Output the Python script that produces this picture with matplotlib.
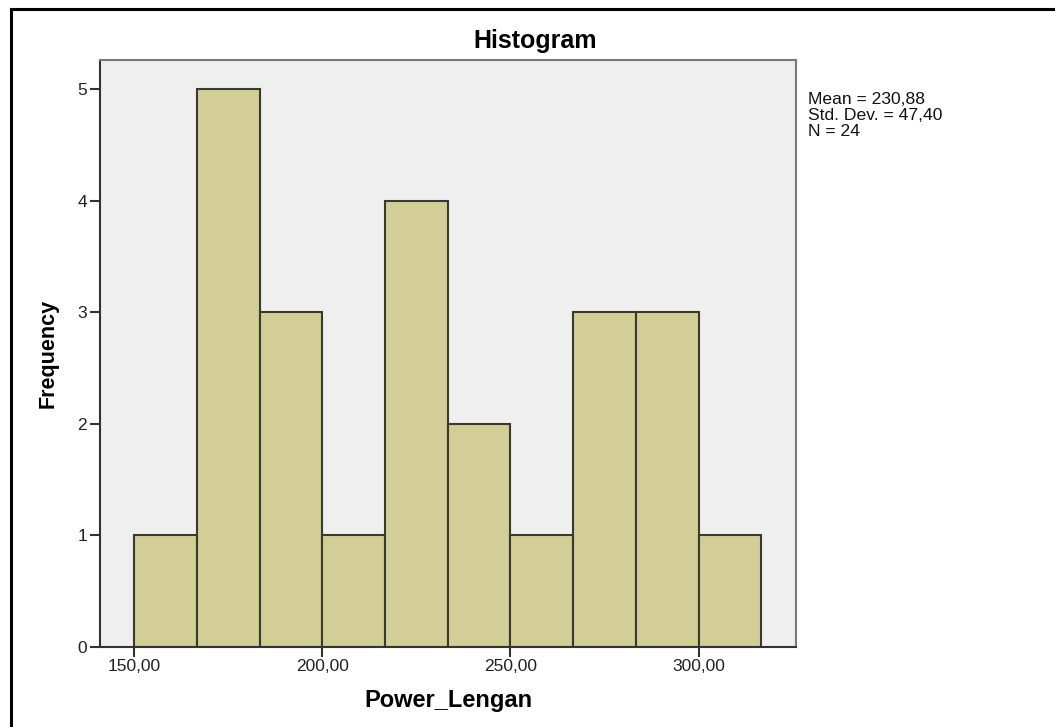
import numpy as np
import matplotlib
matplotlib.use("Agg")
import matplotlib.pyplot as plt
from matplotlib.lines import Line2D

plt.rcParams['font.family'] = ['Liberation Sans', 'DejaVu Sans']

# histogram of Power_Lengan, 10 bins
bin_edges = [150.0, 166.67, 183.33, 200.0, 216.67, 233.33, 250.0, 266.67, 283.33, 300.0, 316.67]
counts = [1, 5, 3, 1, 4, 2, 1, 3, 3, 1]
x_ticks = [150, 200, 250, 300]
x_tick_labels = ['150,00', '200,00', '250,00', '300,00']
y_ticks = [0, 1, 2, 3, 4, 5]
stats_lines = ['Mean = 230,88', 'Std. Dev. = 47,40', 'N = 24']

W, H = 1055, 727
fig = plt.figure(figsize=(W / 100, H / 100), dpi=100)
ax = fig.add_axes([100 / W, 1 - 646.7 / H, 696 / W, 586.7 / H])
ax.set_facecolor('#efefef')

edges = np.array(bin_edges)
ax.bar(edges[:-1], counts, width=np.diff(edges), align='edge',
       color='#d3ce98', edgecolor='#3a3a2c', linewidth=1.5, zorder=2)

ax.set_xlim(140.9, 325.9)
ax.set_ylim(0, 5.263)
ax.set_xticks(x_ticks)
ax.set_xticklabels(x_tick_labels)
ax.set_yticks(y_ticks)
ax.tick_params(axis='both', direction='out', length=7.2, width=1.5,
               color='#333333', labelsize=12.5, labelcolor='#222222', pad=2)

for side in ['left', 'bottom']:
    ax.spines[side].set_color('#333333')
    ax.spines[side].set_linewidth(1.5)
for side in ['top', 'right']:
    ax.spines[side].set_color('#7a7a7a')
    ax.spines[side].set_linewidth(1.5)

fig.text(448 / W, 1 - 701 / H, 'Power_Lengan', ha='center', va='center',
         fontsize=17, fontweight='bold')
fig.text(48 / W, 1 - 353 / H, 'Frequency', ha='center', va='center',
         rotation=90, fontsize=15.5, fontweight='bold')
fig.text(535 / W, 1 - 41 / H, 'Histogram', ha='center', va='center',
         fontsize=18, fontweight='bold')

for i, line in enumerate(stats_lines):
    fig.text(808 / W, 1 - (99 + i * 16) / H, line, ha='left', va='center',
             fontsize=12.6, color='#111111')

# outer frame (top and left edges visible)
fig.add_artist(Line2D([10.5 / W, 10.5 / W], [0, 1 - 8.5 / H],
                      transform=fig.transFigure, color='black', linewidth=2.2))
fig.add_artist(Line2D([10.5 / W, 1], [1 - 8.5 / H, 1 - 8.5 / H],
                      transform=fig.transFigure, color='black', linewidth=2.2))

fig.savefig('out.png', dpi=100)
